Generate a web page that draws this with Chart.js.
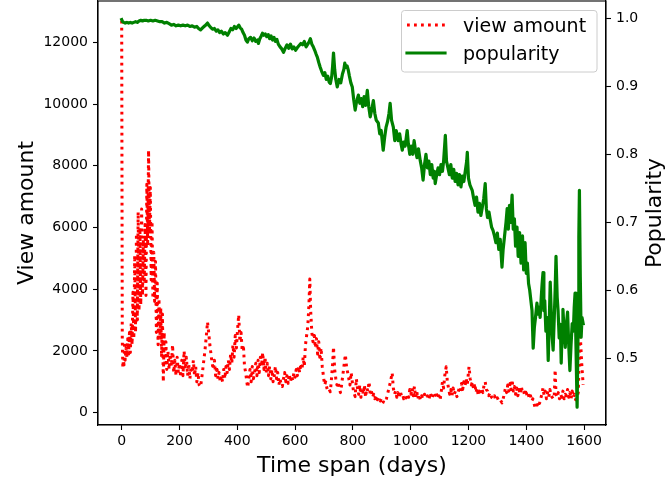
<!DOCTYPE html>
<html><head><meta charset="utf-8">
<script src="https://cdn.jsdelivr.net/npm/chart.js@4.4.0/dist/chart.umd.min.js"></script>
<style>html,body{margin:0;padding:0;background:#fff;}#wrap{width:666px;height:482px;}</style>
</head><body><div id="wrap"><canvas id="c" width="666" height="482"></canvas></div>
<script>
// [day, view amount]
const viewAmount = [
[0,12700],[2,2400],[4,1450],[6,1700],[8,1550],[10,2300],[12,1700],[15,2100],[18,1800],[21,2400],[24,1900],[27,2600],[30,1950],[33,2900],[36,2200],[39,3900],[42,2400],[45,5100],[48,2600],[51,5800],[54,3000],[57,6500],[60,3300],[63,6000],[66,3500],[69,6600],[72,3800],[75,5600],[78,4200],[81,6100],[84,3800],[87,7400],[90,5400],[93,8500],[96,5800],[99,7300],[102,4300],[105,6200],[108,3700],[111,5200],[114,3600],[117,4900],[120,2600],[123,4200],[126,2200],[129,3700],[132,2400],[135,3400],[138,1800],[141,3200],[144,1000],[147,2600],[150,1500],[153,2300],[156,1400],[160,2000],[164,1400],[168,1900],[172,1500],[176,2200],[180,1300],[184,1700],[188,1200],[192,1800],[196,1300],[200,1600],[204,1150],[208,1700],[212,1200],[216,2000],[220,1400],[224,1800],[228,1200],[232,1600],[236,1100],[240,1500],[244,1300],[248,1700],[252,1200],[256,1500],[260,1000],[264,1300],[268,900],[273,840],[278,1200],[283,1600],[288,2000],[293,2500],[297,2940],[301,2600],[305,2200],[309,1900],[313,1600],[317,1400],[321,1700],[325,1200],[329,1500],[333,1100],[337,1300],[341,1000],[345,1200],[349,1000],[353,1400],[357,1100],[361,1500],[365,1300],[369,1700],[373,1400],[377,1900],[381,1600],[385,2200],[389,1800],[393,2500],[397,2100],[401,2700],[405,3170],[409,2300],[413,2600],[417,2000],[421,2200],[425,1500],[429,1300],[433,1000],[436,820],[440,1100],[444,1400],[448,1000],[452,1500],[456,1100],[460,1300],[464,1600],[468,1200],[472,1700],[476,1300],[480,1800],[484,1500],[488,1950],[492,1400],[496,1800],[500,1300],[504,1600],[508,1200],[512,1500],[516,1100],[520,1400],[524,1000],[528,1200],[532,1500],[536,1100],[540,1300],[544,900],[548,1100],[552,900],[556,850],[560,1100],[564,1300],[568,1000],[572,1200],[576,950],[580,1250],[584,1000],[588,1200],[592,1050],[596,1300],[600,1150],[604,1400],[608,1200],[612,1500],[616,1300],[620,1600],[624,1400],[628,1800],[632,1500],[636,2200],[640,2500],[644,2800],[648,3500],[651,4330],[654,3300],[658,2600],[662,2300],[666,2600],[670,2100],[674,2400],[678,1900],[682,2300],[686,1700],[690,2100],[694,1500],[698,1200],[702,900],[706,1000],[710,800],[714,700],[718,750],[722,680],[726,1100],[730,1600],[733,2130],[737,1400],[741,1100],[745,900],[749,1000],[753,800],[757,650],[761,900],[765,1200],[769,1500],[774,1880],[778,1500],[782,1300],[786,1100],[790,900],[794,1300],[798,1000],[802,700],[808,520],[812,1100],[816,800],[820,600],[824,900],[828,500],[832,800],[836,600],[840,900],[844,500],[848,800],[852,700],[856,1000],[860,600],[864,700],[868,500],[872,600],[876,450],[880,550],[885,420],[890,500],[895,380],[900,480],[905,350],[912,320],[916,450],[920,600],[925,800],[930,1000],[936,1290],[940,800],[944,600],[948,700],[952,500],[956,650],[960,480],[964,700],[968,550],[972,600],[976,450],[980,550],[984,480],[988,600],[993,500],[997,750],[1001,600],[1005,800],[1009,550],[1013,850],[1017,500],[1021,700],[1025,450],[1029,600],[1033,420],[1038,550],[1043,450],[1048,600],[1053,480],[1058,550],[1063,420],[1068,650],[1073,450],[1078,600],[1083,500],[1088,680],[1093,450],[1098,550],[1102,420],[1106,700],[1110,1000],[1114,800],[1118,1200],[1123,1490],[1127,1000],[1131,800],[1135,600],[1139,750],[1143,550],[1147,800],[1151,600],[1155,700],[1160,520],[1164,650],[1168,800],[1172,700],[1176,950],[1180,750],[1184,1000],[1188,850],[1192,1100],[1196,900],[1199,1200],[1202,1490],[1206,1100],[1210,900],[1214,1000],[1218,750],[1222,950],[1226,650],[1230,800],[1234,550],[1238,700],[1242,600],[1246,800],[1250,650],[1254,900],[1258,1000],[1262,750],[1266,700],[1270,550],[1275,650],[1280,500],[1285,450],[1290,550],[1295,400],[1300,480],[1305,380],[1310,420],[1316,320],[1320,450],[1324,600],[1328,800],[1332,650],[1336,900],[1340,700],[1344,950],[1348,750],[1351,1070],[1355,700],[1359,850],[1363,600],[1367,800],[1371,550],[1375,750],[1379,600],[1383,850],[1387,650],[1391,700],[1395,550],[1399,750],[1403,520],[1407,600],[1411,450],[1415,550],[1419,380],[1423,450],[1427,300],[1430,195],[1434,300],[1438,250],[1442,380],[1446,300],[1450,450],[1454,600],[1458,800],[1462,550],[1466,700],[1470,450],[1474,650],[1478,500],[1482,750],[1486,550],[1490,500],[1494,450],[1497,550],[1500,1390],[1503,600],[1507,500],[1511,650],[1515,450],[1519,600],[1523,500],[1527,700],[1531,450],[1535,600],[1539,550],[1543,750],[1547,500],[1551,650],[1555,450],[1559,700],[1563,500],[1567,600],[1571,420],[1575,500],[1580,650],[1586,2680],[1592,1600],[1597,900]
];
// [day, popularity]
const popularity = [
[0,0.998],[3,0.995],[7,0.994],[12,0.993],[18,0.994],[24,0.993],[30,0.994],[36,0.993],[42,0.994],[48,0.995],[54,0.994],[60,0.996],[66,0.997],[72,0.996],[78,0.997],[85,0.997],[92,0.996],[100,0.997],[108,0.996],[116,0.997],[124,0.996],[132,0.995],[140,0.995],[148,0.993],[156,0.994],[164,0.992],[172,0.990],[180,0.991],[188,0.989],[196,0.990],[204,0.989],[212,0.990],[220,0.989],[228,0.990],[236,0.988],[244,0.989],[252,0.987],[260,0.988],[266,0.985],[273,0.983],[280,0.986],[288,0.989],[297,0.993],[303,0.989],[309,0.986],[315,0.984],[321,0.985],[327,0.981],[333,0.983],[339,0.979],[345,0.981],[352,0.977],[358,0.979],[366,0.975],[372,0.980],[378,0.985],[384,0.983],[390,0.988],[396,0.985],[405,0.990],[410,0.986],[415,0.984],[420,0.979],[425,0.975],[430,0.968],[435,0.965],[440,0.970],[446,0.972],[452,0.967],[458,0.971],[464,0.966],[470,0.968],[473,0.963],[478,0.970],[483,0.974],[487,0.978],[492,0.975],[497,0.977],[502,0.973],[507,0.976],[512,0.970],[517,0.974],[522,0.968],[527,0.972],[532,0.966],[537,0.969],[542,0.962],[548,0.958],[554,0.955],[560,0.950],[566,0.956],[572,0.961],[578,0.956],[584,0.962],[590,0.955],[596,0.958],[602,0.953],[608,0.957],[614,0.960],[620,0.963],[626,0.961],[632,0.966],[638,0.958],[644,0.962],[649,0.966],[653,0.970],[658,0.962],[663,0.958],[668,0.953],[673,0.947],[677,0.943],[682,0.935],[687,0.928],[692,0.922],[698,0.916],[703,0.920],[708,0.910],[713,0.915],[718,0.906],[722,0.904],[727,0.915],[730,0.930],[733,0.949],[737,0.925],[741,0.910],[746,0.899],[752,0.910],[758,0.905],[764,0.918],[769,0.925],[772,0.934],[776,0.928],[780,0.930],[784,0.924],[788,0.915],[793,0.905],[798,0.899],[803,0.880],[808,0.865],[813,0.878],[819,0.887],[824,0.875],[829,0.882],[834,0.870],[839,0.885],[844,0.872],[850,0.894],[855,0.870],[860,0.855],[865,0.865],[871,0.879],[876,0.860],[881,0.850],[888,0.846],[893,0.830],[898,0.835],[905,0.806],[910,0.825],[915,0.840],[920,0.848],[925,0.860],[929,0.875],[934,0.850],[940,0.840],[945,0.820],[950,0.835],[957,0.820],[962,0.830],[967,0.815],[971,0.806],[976,0.818],[981,0.812],[985,0.825],[988,0.835],[992,0.815],[997,0.800],[1002,0.812],[1007,0.800],[1012,0.820],[1017,0.805],[1022,0.795],[1027,0.808],[1033,0.791],[1038,0.780],[1043,0.762],[1048,0.785],[1053,0.800],[1058,0.780],[1063,0.790],[1068,0.770],[1073,0.785],[1078,0.765],[1082,0.775],[1085,0.757],[1090,0.770],[1095,0.780],[1100,0.770],[1105,0.785],[1110,0.775],[1114,0.790],[1118,0.815],[1120,0.828],[1124,0.790],[1129,0.780],[1134,0.770],[1139,0.785],[1144,0.765],[1149,0.778],[1154,0.760],[1159,0.772],[1164,0.755],[1169,0.770],[1174,0.752],[1179,0.768],[1184,0.760],[1189,0.775],[1194,0.790],[1196,0.803],[1200,0.765],[1205,0.755],[1210,0.750],[1213,0.747],[1218,0.735],[1223,0.725],[1228,0.737],[1233,0.715],[1238,0.728],[1243,0.710],[1248,0.722],[1253,0.735],[1258,0.757],[1262,0.720],[1266,0.707],[1271,0.715],[1275,0.705],[1280,0.693],[1285,0.688],[1290,0.680],[1295,0.670],[1300,0.684],[1305,0.660],[1310,0.675],[1316,0.634],[1320,0.660],[1325,0.680],[1330,0.700],[1334,0.720],[1338,0.690],[1342,0.725],[1346,0.700],[1351,0.740],[1355,0.690],[1359,0.705],[1363,0.665],[1368,0.693],[1372,0.650],[1377,0.685],[1382,0.640],[1387,0.680],[1391,0.630],[1396,0.670],[1400,0.625],[1404,0.640],[1408,0.610],[1412,0.600],[1416,0.585],[1420,0.570],[1424,0.515],[1428,0.545],[1432,0.560],[1437,0.581],[1441,0.565],[1445,0.575],[1448,0.560],[1452,0.590],[1455,0.610],[1458,0.626],[1461,0.570],[1464,0.585],[1468,0.540],[1472,0.560],[1476,0.497],[1480,0.560],[1483,0.612],[1487,0.560],[1490,0.530],[1493,0.512],[1497,0.560],[1500,0.600],[1503,0.650],[1507,0.590],[1510,0.571],[1514,0.530],[1518,0.550],[1521,0.493],[1524,0.540],[1527,0.572],[1531,0.540],[1535,0.516],[1539,0.550],[1543,0.568],[1547,0.520],[1551,0.482],[1555,0.520],[1559,0.551],[1563,0.540],[1566,0.575],[1569,0.596],[1572,0.520],[1576,0.428],[1580,0.560],[1582,0.680],[1584,0.747],[1587,0.620],[1590,0.531],[1593,0.560],[1597,0.551]
];
const seriesNames = ['view amount', 'popularity'];
const xTicks = [0, 200, 400, 600, 800, 1000, 1200, 1400, 1600];
const viewTicks = [0, 2000, 4000, 6000, 8000, 10000, 12000];
const popTicks = [0.5, 0.6, 0.7, 0.8, 0.9, 1.0];

const FONT = 'DejaVu Sans';
const RED = '#ff0000', GREEN = '#008000';
const DASH = [2.8, 4.2];

const tickFont = {family: FONT, size: 14};
function axisCommon(ticksArr, fmt, padding) {
  return {
    afterBuildTicks: s => { s.ticks = ticksArr.map(v => ({value: v})); },
    ticks: {font: tickFont, color: '#000', padding: padding, autoSkip: false, maxRotation: 0, callback: fmt},
    grid: {drawOnChartArea: false, drawTicks: true, tickLength: 5, tickColor: '#000', tickWidth: 1.1, color: '#000'},
    border: {display: true, color: '#000', width: 1.1}
  };
}

const customPlugin = {
  id: 'custom',
  afterDraw(chart) {
    const ctx = chart.ctx, a = chart.chartArea;
    ctx.save();
    ctx.strokeStyle = '#000'; ctx.lineWidth = 1.1;
    ctx.strokeRect(a.left, a.top, a.right - a.left, a.bottom - a.top);
    ctx.fillStyle = '#000';
    ctx.font = '22px "' + FONT + '"';
    ctx.textAlign = 'center'; ctx.textBaseline = 'middle';
    ctx.translate(655, (a.top + a.bottom) / 2);
    ctx.rotate(-Math.PI / 2);
    ctx.fillText('Popularity', 0, 0);
    ctx.restore();
    // legend
    ctx.save();
    const bx = 401.5, by = 10.5, bw = 195.5, bh = 61.5, r = 3;
    ctx.beginPath();
    ctx.moveTo(bx + r, by); ctx.lineTo(bx + bw - r, by); ctx.arcTo(bx + bw, by, bx + bw, by + r, r);
    ctx.lineTo(bx + bw, by + bh - r); ctx.arcTo(bx + bw, by + bh, bx + bw - r, by + bh, r);
    ctx.lineTo(bx + r, by + bh); ctx.arcTo(bx, by + bh, bx, by + bh - r, r);
    ctx.lineTo(bx, by + r); ctx.arcTo(bx, by, bx + r, by, r); ctx.closePath();
    ctx.fillStyle = 'rgba(255,255,255,0.8)'; ctx.fill();
    ctx.strokeStyle = '#cccccc'; ctx.lineWidth = 1; ctx.stroke();
    const rows = [{y: 25, base: 32, color: RED, dash: DASH, cap: 'butt', w: 2.8}, {y: 53, base: 60, color: GREEN, dash: [], cap: 'square', w: 3.2}];
    rows.forEach((row, i) => {
      ctx.beginPath();
      ctx.setLineDash(row.dash);
      ctx.lineCap = row.cap;
      ctx.strokeStyle = row.color; ctx.lineWidth = row.w;
      ctx.moveTo(407, row.y); ctx.lineTo(445, row.y); ctx.stroke();
      ctx.setLineDash([]);
      ctx.fillStyle = '#000';
      ctx.font = '19px "' + FONT + '"';
      ctx.textAlign = 'left'; ctx.textBaseline = 'alphabetic';
      ctx.fillText(seriesNames[i], 463, row.base);
    });
    ctx.restore();
  }
};

new Chart(document.getElementById('c'), {
  type: 'line',
  data: {
    datasets: [
      {
        label: seriesNames[1], yAxisID: 'y1', order: 0,
        data: popularity.map(p => ({x: p[0], y: p[1]})),
        borderColor: GREEN, borderWidth: 3.2, pointRadius: 0, fill: false, tension: 0,
        borderJoinStyle: 'round', borderCapStyle: 'square'
      },
      {
        label: seriesNames[0], yAxisID: 'y', order: 1,
        data: viewAmount.map(p => ({x: p[0], y: p[1]})),
        borderColor: RED, borderWidth: 3, borderDash: DASH, pointRadius: 0, fill: false, tension: 0,
        borderCapStyle: 'butt', borderJoinStyle: 'round'
      }
    ]
  },
  options: {
    responsive: false, animation: false, devicePixelRatio: 1,
    layout: {padding: {top: 1, left: 0, right: 0, bottom: 0}},
    plugins: {legend: {display: false}, tooltip: {enabled: false}},
    scales: {
      x: Object.assign(axisCommon(xTicks, v => String(v), 3), {
        type: 'linear', position: 'bottom', min: -82, max: 1676,
        title: {display: true, text: 'Time span (days)', color: '#000', font: {family: FONT, size: 22, lineHeight: 1}, padding: {top: 0, bottom: 5}},
        afterFit: s => { s.height = 57; s.paddingLeft = 0; s.paddingRight = 0; }
      }),
      y: Object.assign(axisCommon(viewTicks, v => String(v), 5), {
        type: 'linear', position: 'left', min: -398, max: 13338,
        title: {display: true, text: 'View amount', color: '#000', font: {family: FONT, size: 22, lineHeight: 1}, padding: {top: 16, bottom: 0}},
        afterFit: s => { s.width = 98; s.paddingTop = 0; s.paddingBottom = 0; }
      }),
      y1: Object.assign(axisCommon(popTicks, v => Number(v).toFixed(1), 5), {
        type: 'linear', position: 'right', min: 0.4019, max: 1.02544,
        afterFit: s => { s.width = 60; s.paddingTop = 0; s.paddingBottom = 0; }
      })
    }
  },
  plugins: [customPlugin]
});
</script>
</body></html>
